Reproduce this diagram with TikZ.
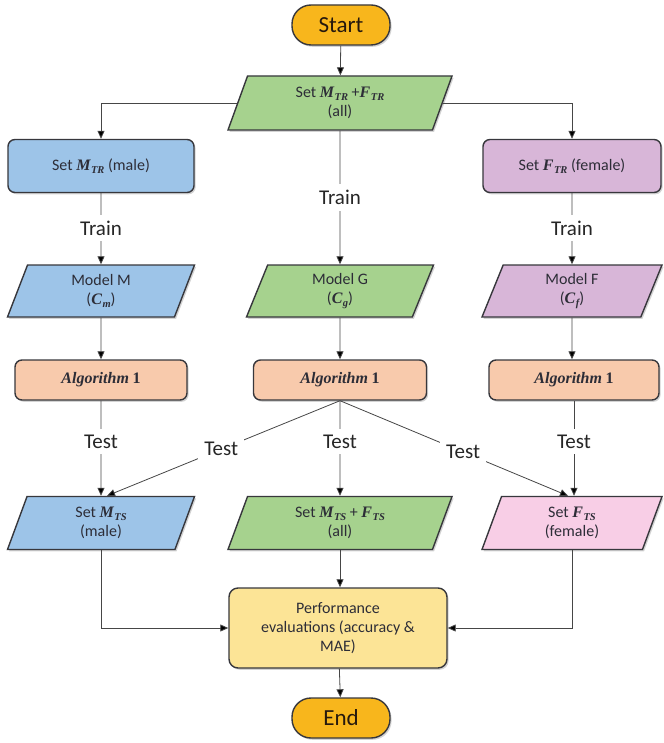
\documentclass[tikz,border=0pt]{standalone}
\usepackage{fontspec}
\setmainfont{Carlito}
\newfontfamily\serifmath{Liberation Serif}
\usetikzlibrary{shapes.geometric,shadows,arrows.meta,calc}
\newcommand{\vsym}[2]{{\serifmath\itshape\bfseries #1\kern0.5pt\raisebox{-0.35ex}{\fontsize{10.5}{11}\selectfont #2}}}
\definecolor{edgec}{RGB}{55,55,60}
\definecolor{linec}{RGB}{70,70,70}
\definecolor{txtc}{RGB}{45,45,55}
\definecolor{gold}{RGB}{248,182,28}
\definecolor{greenf}{RGB}{166,210,142}
\definecolor{bluef}{RGB}{157,196,232}
\definecolor{purplef}{RGB}{216,182,216}
\definecolor{pinkf}{RGB}{248,206,230}
\definecolor{peachf}{RGB}{248,202,172}
\definecolor{perff}{RGB}{252,228,150}
\begin{document}
\begin{tikzpicture}[x=1pt,y=-1pt,
  shd/.style={drop shadow={opacity=0.35,shadow xshift=1.6pt,shadow yshift=-1.8pt}},
  box/.style={draw=edgec,line width=1.4pt,rounded corners=7pt,minimum height=53pt,
    align=center,text=txtc,font=\fontsize{16}{19}\selectfont,shd},
  para/.style={trapezium,trapezium left angle=63,trapezium right angle=117,
    trapezium stretches body,draw=edgec,line width=1.4pt,minimum height=53pt,
    align=center,text=txtc,font=\fontsize{16}{19}\selectfont,shd},
  term/.style={draw=edgec,line width=1.4pt,rounded corners=19pt,fill=gold,
    minimum width=98pt,minimum height=40pt,text=black!80!brown,
    font=\fontsize{23}{25}\selectfont,shd},
  lbl/.style={fill=white,inner sep=6pt,text=black!85,font=\fontsize{21}{23}\selectfont},
  arr/.style={draw=linec,line width=0.8pt,-{Triangle[length=8pt,width=7pt,fill=black]}},
  ln/.style={draw=linec,line width=0.8pt}]
\useasboundingbox (0,0) rectangle (663,743);

\node[term] (start) at (341,25) {Start};
\node[para,fill=greenf,minimum width=224pt,minimum height=54pt] (p1) at (340,103)
  {Set \vsym{M}{TR} +\vsym{F}{TR}\\(all)};
\node[box,fill=bluef,minimum width=186pt] (mtr) at (101,166) {Set \vsym{M}{TR} (male)};
\node[box,fill=purplef,minimum width=178pt] (ftr) at (572,166) {Set \vsym{F}{TR} (female)};

\node[para,fill=bluef,minimum width=187pt,minimum height=52pt] (mm) at (101,291) {Model M\\(\vsym{C}{m})};
\node[para,fill=greenf,minimum width=187pt,minimum height=52pt] (mg) at (340,291) {Model G\\(\vsym{C}{g})};
\node[para,fill=purplef,minimum width=180pt,minimum height=52pt] (mf) at (572,291) {Model F\\(\vsym{C}{f})};

\node[box,fill=peachf,minimum width=172pt,minimum height=40pt] (am) at (101,380) {{\serifmath\itshape\bfseries Algorithm} {\serifmath\bfseries 1}};
\node[box,fill=peachf,minimum width=173pt,minimum height=40pt] (ag) at (340,380) {{\serifmath\itshape\bfseries Algorithm} {\serifmath\bfseries 1}};
\node[box,fill=peachf,minimum width=170pt,minimum height=40pt] (af) at (574,380) {{\serifmath\itshape\bfseries Algorithm} {\serifmath\bfseries 1}};

\node[para,fill=bluef,minimum width=187pt] (mts) at (101,523) {Set \vsym{M}{TS}\\(male)};
\node[para,fill=greenf,minimum width=224pt] (ats) at (340,523) {Set \vsym{M}{TS} + \vsym{F}{TS}\\(all)};
\node[para,fill=pinkf,minimum width=180pt] (fts) at (572,523) {Set \vsym{F}{TS}\\(female)};

\node[box,fill=perff,minimum width=218pt,minimum height=80pt,rounded corners=9pt] (perf) at (338,628)
  {Performance\\evaluations (accuracy \&\\MAE)};
\node[term] (end) at (341,718) {End};

\coordinate (mtsIn) at ($(mts.north)+(6,0)$);
\coordinate (ftsIn) at ($(fts.north)+(-4,0)$);

\draw[arr] (start) -- (p1);
\draw[arr] (p1.west) -| (mtr.north);
\draw[arr] (p1.east) -| (ftr.north);
\draw[arr] (p1.south) -- node[lbl,pos=0.5] (trC) {Train} (mg.north);
\draw[arr] (mtr.south) -- node[lbl,pos=0.49] (trL) {Train} (mm.north);
\draw[arr] (ftr.south) -- node[lbl,pos=0.49] (trR) {Train} (mf.north);

\draw[arr] (mm) -- (am);
\draw[arr] (mg) -- (ag);
\draw[arr] (mf) -- (mf |- af.north);

\draw[arr] (am.south) -- node[lbl,pos=0.43] (teL) {Test} (mts.north);
\draw[arr] (ag.south) -- node[lbl,pos=0.43] (teC) {Test} (ats.north);
\draw[arr] (af.south) -- node[lbl,pos=0.43] (teR) {Test} (af.south |- fts.north);
\draw[arr] (ag.south) -- node[lbl,pos=0.51] (teML) {Test} (mtsIn);
\draw[arr] (ag.south) -- node[lbl,pos=0.54] (teMR) {Test} (ftsIn);

\draw[arr] (mts.south) |- (perf.west);
\draw[arr] (fts.south) |- (perf.east);
\draw[arr] (ats.south) -- (ats.south |- perf.north);
\draw[arr] (perf) -- (end);
\end{tikzpicture}
\end{document}
